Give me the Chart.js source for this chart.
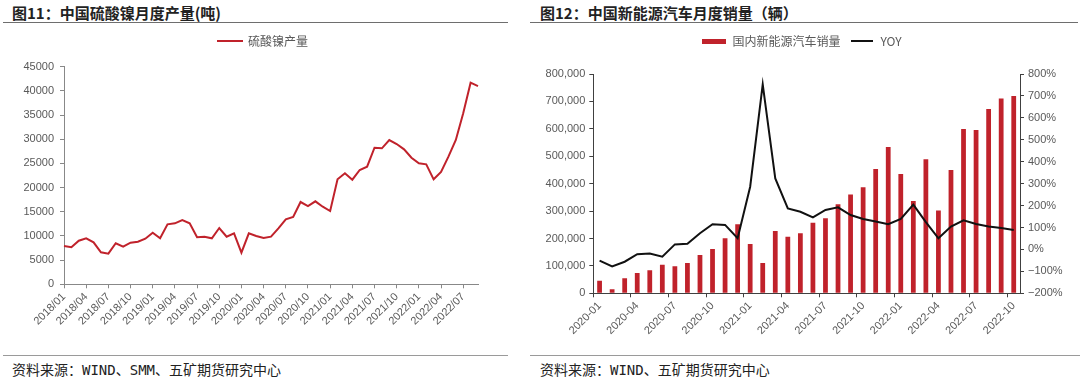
<!DOCTYPE html>
<html>
<head>
<meta charset="utf-8">
<script src="https://cdn.jsdelivr.net/npm/chart.js@4/dist/chart.umd.min.js"></script>
<style>
  body { margin: 0; width: 1080px; height: 380px; background: #fff; position: relative; overflow: hidden; }
  .title { position: absolute; top: 2px; font: bold 15px "Noto Sans CJK SC", sans-serif; color: #222; white-space: nowrap; }
  .rule { position: absolute; height: 1px; background: #6e6e6e; }
  .foot { position: absolute; top: 359px; font: 14px "DejaVu Sans Mono", "Noto Sans CJK SC", monospace; color: #222; white-space: nowrap; }
  canvas { position: absolute; }
</style>
</head>
<body>
<div class="title" style="left:12px">图11：中国硫酸镍月度产量(吨)</div>
<div class="title" style="left:540px">图12：中国新能源汽车月度销量（辆）</div>
<div class="rule" style="left:3px; width:505px; top:22px"></div>
<div class="rule" style="left:530px; width:548px; top:22px"></div>
<div class="rule" style="left:3px; width:505px; top:355px; background:#9a9a9a"></div>
<div class="rule" style="left:530px; width:550px; top:355px; background:#9a9a9a"></div>
<div class="foot" style="left:12px">资料来源：WIND、SMM、五矿期货研究中心</div>
<div class="foot" style="left:540px">资料来源：WIND、五矿期货研究中心</div>

<canvas id="nickelChart" width="500" height="325" style="left:0; top:25px"></canvas>
<canvas id="nevChart" width="576" height="325" style="left:504px; top:25px"></canvas>

<script>
// 硫酸镍月度产量（吨）
const nickelMonths = [
  '2018/01','2018/02','2018/03','2018/04','2018/05','2018/06','2018/07','2018/08','2018/09','2018/10','2018/11','2018/12',
  '2019/01','2019/02','2019/03','2019/04','2019/05','2019/06','2019/07','2019/08','2019/09','2019/10','2019/11','2019/12',
  '2020/01','2020/02','2020/03','2020/04','2020/05','2020/06','2020/07','2020/08','2020/09','2020/10','2020/11','2020/12',
  '2021/01','2021/02','2021/03','2021/04','2021/05','2021/06','2021/07','2021/08','2021/09','2021/10','2021/11','2021/12',
  '2022/01','2022/02','2022/03','2022/04','2022/05','2022/06','2022/07','2022/08','2022/09'
];
const nickelOutput = [
  7900, 7650, 9020, 9510, 8680, 6620, 6330, 8480, 7780, 8600, 8810, 9430,
  10670, 9510, 12400, 12610, 13300, 12610, 9720, 9840, 9510, 11640, 9840, 10540,
  6540, 10540, 9990, 9580, 9850, 11580, 13440, 13920, 17020, 16190, 17160, 16050,
  15160, 21710, 22950, 21630, 23640, 24320, 28250, 28120, 29840, 29010, 27910, 26180,
  25020, 24810, 21710, 23220, 26390, 29840, 35360, 41690, 41000
];

// 新能源汽车月度销量（辆）与同比
const nevMonths = [
  '2020-01','2020-02','2020-03','2020-04','2020-05','2020-06','2020-07','2020-08','2020-09','2020-10','2020-11','2020-12',
  '2021-01','2021-02','2021-03','2021-04','2021-05','2021-06','2021-07','2021-08','2021-09','2021-10','2021-11','2021-12',
  '2022-01','2022-02','2022-03','2022-04','2022-05','2022-06','2022-07','2022-08','2022-09','2022-10'
];
const nevSales = [
  46000, 14500, 54500, 74000, 84000, 104500, 98500, 110500, 140000, 161500, 200500, 251500,
  180000, 110500, 227000, 206500, 219000, 257500, 273500, 324500, 360000, 386500, 453500, 533500,
  435000, 337000, 489000, 302500, 450000, 599500, 595500, 672500, 711000, 720000
];
const nevYoy = [
  -51, -77, -56, -22, -19, -33, 23, 26, 74, 115, 112, 51,
  286, 753, 324, 187, 172, 146, 180, 192, 157, 139, 127, 115,
  139, 204, 125, 51, 104, 133, 116, 105, 98, 89
];

const RED = '#c0222b';
const TICK_FONT = { family: 'Liberation Sans', size: 11 };
const TICK_COLOR = '#595959';

// 图例色块
function swatch(w, h, color) {
  const c = document.createElement('canvas');
  c.width = w; c.height = h;
  const g = c.getContext('2d');
  g.fillStyle = color;
  g.fillRect(0, 0, w, h);
  return c;
}

// 固定图例高度，并可左右平移图例
function legendBox(h, dx) {
  return {
    id: 'legendBox',
    beforeInit(chart) {
      const fit = chart.legend.fit;
      chart.legend.fit = function () {
        fit.call(this);
        this.height = h;
      };
    },
    afterLayout(chart) {
      chart.legend.left += dx;
      chart.legend.right += dx;
    }
  };
}

function legendOpts(styles) {
  return {
    position: 'top',
    labels: {
      usePointStyle: true,
      pointStyleWidth: 24,
      color: TICK_COLOR,
      padding: 10,
      font: { family: 'Noto Sans CJK SC', size: 12 },
      sort: (a, b) => a.datasetIndex - b.datasetIndex,
      generateLabels(chart) {
        const items = Chart.defaults.plugins.legend.labels.generateLabels(chart);
        items.forEach((it) => { it.pointStyle = styles[it.datasetIndex]; });
        return items;
      }
    }
  };
}

const every3 = (i) => i % 3 === 0;

// 图11
new Chart(document.getElementById('nickelChart'), {
  type: 'line',
  data: {
    labels: nickelMonths,
    datasets: [{
      label: '硫酸镍产量',
      data: nickelOutput,
      borderColor: RED,
      backgroundColor: RED,
      borderWidth: 2,
      pointRadius: 0,
      tension: 0
    }]
  },
  options: {
    responsive: false,
    animation: false,
    layout: { padding: { right: 22, left: 0, top: 0, bottom: 0 } },
    plugins: { legend: legendOpts([swatch(26, 2, RED)]), tooltip: { enabled: false } },
    scales: {
      x: {
        offset: false,
        afterFit: (s) => { s.height = 65.7; },
        border: { color: '#888' },
        grid: {
          drawOnChartArea: false,
          tickLength: 4,
          tickColor: (ctx) => every3(ctx.index) ? '#888' : 'transparent'
        },
        ticks: {
          autoSkip: false,
          minRotation: 45,
          maxRotation: 45,
          padding: 2,
          color: TICK_COLOR,
          font: TICK_FONT,
          callback: function (v, i) { return every3(i) ? this.getLabelForValue(v) : ''; }
        }
      },
      y: {
        min: 0,
        max: 45000,
        afterFit: (s) => { s.width = 64; },
        border: { color: '#888' },
        grid: { drawOnChartArea: false, tickLength: 4, tickColor: '#888' },
        ticks: { stepSize: 5000, padding: 6, color: TICK_COLOR, font: TICK_FONT, callback: (v) => String(v) }
      }
    }
  },
  plugins: [legendBox(41.7, 24)]
});

// 图12
new Chart(document.getElementById('nevChart'), {
  type: 'bar',
  data: {
    labels: nevMonths,
    datasets: [{
      type: 'bar',
      label: '国内新能源汽车销量',
      data: nevSales,
      backgroundColor: RED,
      barPercentage: 0.38,
      categoryPercentage: 1,
      yAxisID: 'y',
      order: 2
    }, {
      type: 'line',
      label: 'YOY',
      data: nevYoy,
      borderColor: '#111',
      backgroundColor: '#111',
      borderWidth: 2,
      pointRadius: 0,
      tension: 0,
      yAxisID: 'y1',
      order: 1
    }]
  },
  options: {
    responsive: false,
    animation: false,
    layout: { padding: { left: 26, right: 0, top: 0, bottom: 0 } },
    plugins: {
      legend: legendOpts([swatch(24, 5, RED), swatch(22, 2, '#111')]),
      tooltip: { enabled: false }
    },
    scales: {
      x: {
        afterFit: (s) => { s.height = 56.7; },
        border: { color: '#404040' },
        grid: {
          offset: true,
          drawOnChartArea: false,
          tickLength: 4,
          tickColor: (ctx) => every3(ctx.index) ? '#404040' : 'transparent'
        },
        ticks: {
          autoSkip: false,
          minRotation: 45,
          maxRotation: 45,
          padding: 2,
          color: TICK_COLOR,
          font: TICK_FONT,
          callback: function (v, i) { return every3(i) ? this.getLabelForValue(v) : ''; }
        }
      },
      y: {
        position: 'left',
        min: 0,
        max: 800000,
        afterFit: (s) => { s.width = 63.3; },
        border: { color: '#404040' },
        grid: { drawOnChartArea: false, tickLength: 4, tickColor: '#404040' },
        ticks: {
          stepSize: 100000,
          padding: 4,
          color: TICK_COLOR,
          font: TICK_FONT,
          callback: (v) => v.toLocaleString('en-US')
        }
      },
      y1: {
        position: 'right',
        min: -200,
        max: 800,
        afterFit: (s) => { s.width = 60; },
        border: { color: '#404040' },
        grid: { drawOnChartArea: false, tickLength: 4, tickColor: '#404040' },
        ticks: {
          stepSize: 100,
          padding: 4,
          color: TICK_COLOR,
          font: TICK_FONT,
          callback: (v) => (v < 0 ? '\u2212' + Math.abs(v) : v) + '%'
        }
      }
    }
  },
  plugins: [legendBox(49, -3)]
});
</script>
</body>
</html>
